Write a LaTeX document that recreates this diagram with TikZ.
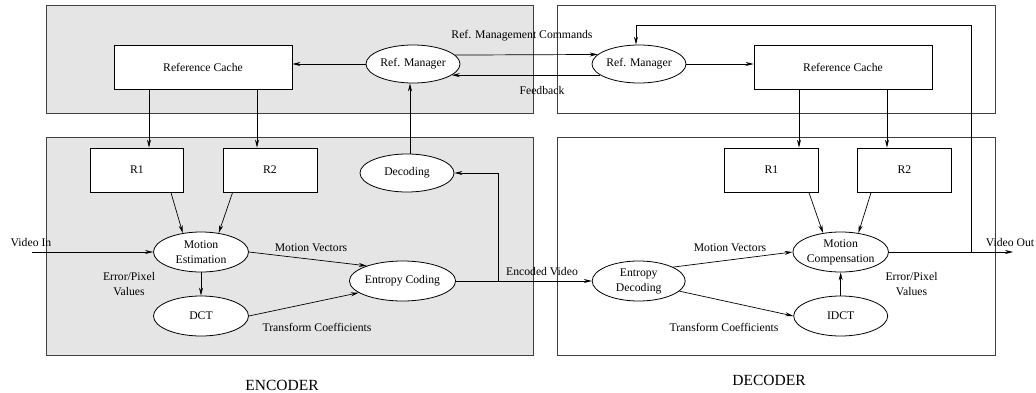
\documentclass[tikz,border=0pt]{standalone}
\usepackage{fontspec}
\setmainfont{Liberation Serif}
\usetikzlibrary{shapes.geometric,arrows.meta}
\begin{document}
\begin{tikzpicture}[x=1pt,y=-1pt,
  every node/.style={font=\fontsize{11.7}{15}\selectfont},
  panel/.style={draw=black!75,line width=1pt},
  gpanel/.style={panel,fill=black!10},
  rbox/.style={draw,line width=0.8pt,fill=white,minimum width=#1,minimum height=44,inner sep=0pt},
  ell/.style={draw,ellipse,line width=0.8pt,fill=white,minimum width=94,minimum height=#1,inner sep=0pt,align=center},
  arr/.style={line width=0.7pt,-{Stealth[length=8pt,width=4pt]}},
  ln/.style={line width=0.7pt},
  lbl/.style={align=center,inner sep=0pt},
  big/.style={font=\fontsize{15.5}{18}\selectfont,inner sep=0pt}
]
\useasboundingbox (0,0) rectangle (1036,393);
% panels
\path[gpanel] (46,6) rectangle (533,114);
\path[gpanel] (46,138) rectangle (533,355);
\path[panel,fill=white] (557,6) rectangle (995,114);
\path[panel,fill=white] (557,138) rectangle (995,355);

% encoder nodes
\node[rbox=178] (ercache) at (203,67) {Reference Cache};
\node[ell=38] (ermgr) at (413,64) {Ref. Manager};
\node[rbox=93] (eR1) at (137,170) {R1};
\node[rbox=94] (eR2) at (270,170) {R2};
\node[ell=38] (edec) at (407,173) {Decoding};
\node[ell=40,minimum width=95] (eme) at (201,252) {Motion\\Estimation};
\node[ell=40,minimum width=95] (edct) at (201,316) {DCT};
\node[ell=40,minimum width=95] (eec) at (402.5,281) {Entropy Coding};

% decoder nodes
\node[ell=38] (drmgr) at (639,64) {Ref. Manager};
\node[rbox=178] (drcache) at (843,67) {Reference Cache};
\node[rbox=94] (dR1) at (771.5,170) {R1};
\node[rbox=94] (dR2) at (904.5,170) {R2};
\node[ell=40] (dmc) at (840.7,252) {Motion\\Compensation};
\node[ell=40,minimum width=93] (ded) at (638.7,281) {Entropy\\Decoding};
\node[ell=40] (didct) at (840.7,316) {IDCT};

\coordinate (vi) at (32,252);
\coordinate (vo) at (1013,252);
\coordinate (tap) at (971,252);
\coordinate (junc) at (498,281);

% encoder connectors
\draw[arr] (ermgr.west) -- (ercache.east |- ermgr.west);
\draw[arr] ([xshift=-54]ercache.south) -- ([xshift=-54]ercache.south |- eR1.north);
\draw[arr] ([xshift=54]ercache.south) -- ([xshift=54]ercache.south |- eR2.north);
\draw[arr] ([xshift=3]edec.north) -- ([xshift=3]edec.north |- ermgr.south);
\draw[arr] ([xshift=-13]eR1.south east) -- (eme.134);
\draw[arr] ([xshift=10]eR2.south west) -- (eme.47);
\draw[arr] (vi) -- (eme.west);
\draw[arr] (eme.east) -- (eec.157);
\draw[arr] (eme.south) -- (edct.north);
\draw[arr] (edct.east) -- (eec.195);
\draw[arr] (eec.east) -- (ded.west);
\draw[arr] (junc) |- (edec.east);

% between
\draw[arr] (ermgr.12.3) -- (drmgr.167.7);
\draw[arr] (drmgr.196) -- (ermgr.-16);

% decoder connectors
\draw[arr] (drmgr.east) -- (drcache.west |- drmgr.east);
\draw[arr] ([xshift=-44]drcache.south) -- ([xshift=-44]drcache.south |- dR1.north);
\draw[arr] ([xshift=44]drcache.south) -- ([xshift=44]drcache.south |- dR2.north);
\draw[arr] ([xshift=-10]dR1.south east) -- (dmc.133);
\draw[arr] ([xshift=14]dR2.south west) -- (dmc.47);
\draw[arr] (ded.22) -- (dmc.west);
\draw[arr] (ded.-14.6) -- (didct.west);
\draw[arr] (didct.north) -- (dmc.south);
\draw[arr] (dmc.east) -- (vo);
\draw[arr] (tap) -- (tap |- 0,25) -| ([xshift=-3]drmgr.north);

% labels
\node[lbl] (lcmd) at (522,36) {Ref. Management Commands};
\node[lbl] (lfb) at (542,90) {Feedback};
\node[lbl] (lmv1) at (311,248) {Motion Vectors};
\node[lbl] (lmv2) at (730,248) {Motion Vectors};
\node[lbl] (ltc1) at (317,327) {Transform Coefficients};
\node[lbl] (ltc2) at (724,327) {Transform Coefficients};
\node[lbl] (lep1) at (129,284) {Error/Pixel\\Values};
\node[lbl] (lep2) at (911.5,284) {Error/Pixel\\Values};
\node[lbl] (lev) at (542,272) {Encoded Video};
\node[lbl] (lvi) at (31,243) {Video In};
\node[lbl] (lvo) at (1010,243) {Video Out};
\node[big] (lenc) at (282,385) {ENCODER};
\node[big] (ldec) at (769,380) {DECODER};
\end{tikzpicture}
\end{document}
